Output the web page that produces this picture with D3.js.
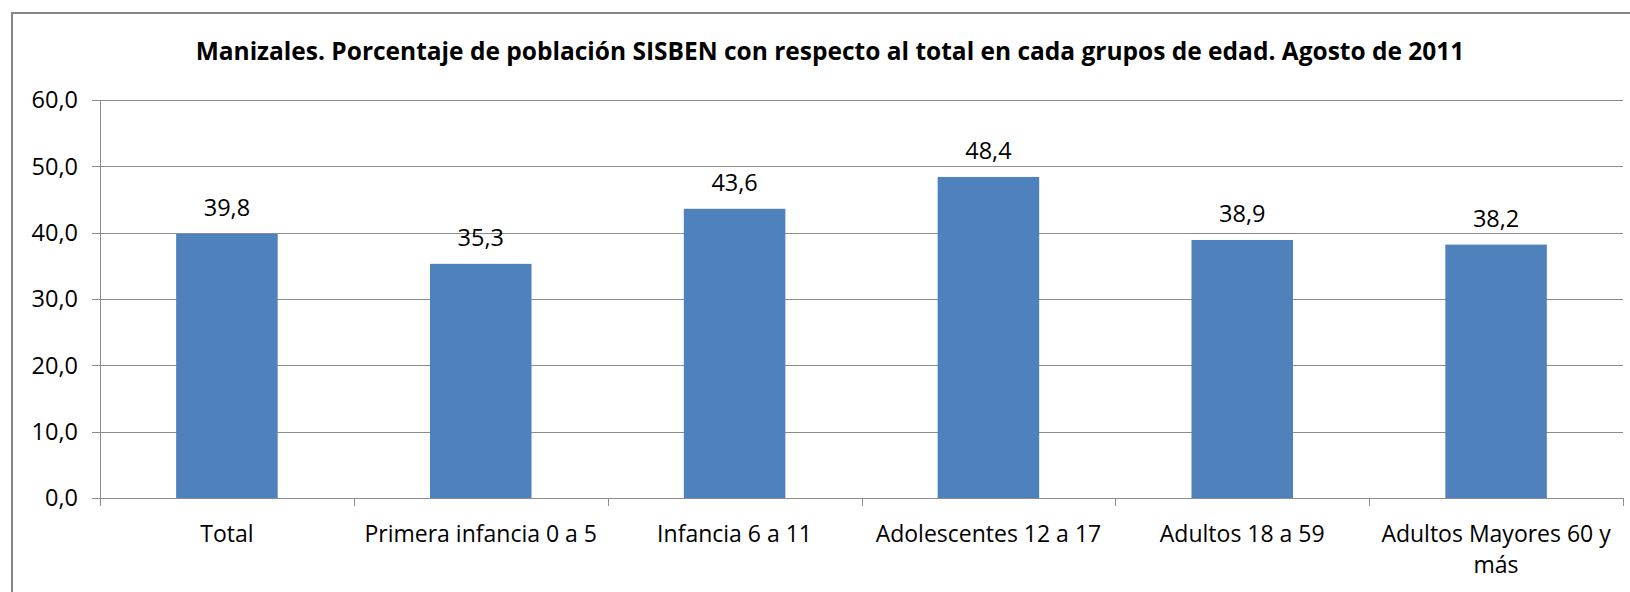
<!DOCTYPE html>
<html>
<head>
<meta charset="utf-8">
<script src="https://cdn.jsdelivr.net/npm/d3@7"></script>
<style>
  html, body { margin: 0; padding: 0; background: #fff; }
  svg text { font-family: "Open Sans", sans-serif; fill: #000; }
</style>
</head>
<body>
<div id="chart"></div>
<script>
const title = "Manizales. Porcentaje de población SISBEN con respecto al total en cada grupos de edad. Agosto de 2011";
const categories = ["Total", "Primera infancia 0 a 5", "Infancia 6 a 11", "Adolescentes 12 a 17", "Adultos 18 a 59", "Adultos Mayores 60 y más"];
const values = [39.8, 35.3, 43.6, 48.4, 38.9, 38.2];
const yTicks = [0, 10, 20, 30, 40, 50, 60];

const W = 1630, H = 592;
const margin = { top: 100, right: 7, bottom: 94, left: 100 };
const width  = W - margin.left - margin.right;
const height = H - margin.top - margin.bottom;

const fmt = v => d3.format(".1f")(v).replace(".", ",");

const root = d3.select("#chart")
  .append("svg")
    .attr("width", W)
    .attr("height", H);

// chart border
root.append("rect")
  .attr("x", 12).attr("y", 13)
  .attr("width", W + 20).attr("height", H + 20)
  .attr("fill", "none")
  .attr("stroke", "#868686")
  .attr("stroke-width", 2);

root.append("text")
  .attr("x", 830).attr("y", 60)
  .attr("text-anchor", "middle")
  .style("font-weight", "bold")
  .style("font-size", "24.5px")
  .text(title);

const svg = root.append("g")
  .attr("transform", `translate(${margin.left},${margin.top})`);

const x = d3.scaleBand()
  .domain(categories)
  .range([0, width])
  .paddingInner(0.6)
  .paddingOuter(0.3);

const xb = d3.scaleBand()
  .domain(categories)
  .range([0, width]);

const y = d3.scaleLinear()
  .domain([0, 60])
  .range([height, 0]);

// gridlines
svg.selectAll("line.grid")
  .data(yTicks)
  .join("line")
    .attr("class", "grid")
    .attr("x1", -8).attr("x2", width)
    .attr("y1", d => Math.round(y(d)) + 0.5)
    .attr("y2", d => Math.round(y(d)) + 0.5)
    .attr("stroke", "#8c8c8c")
    .attr("stroke-width", 1);

// y axis line
svg.append("line")
  .attr("x1", 0.5).attr("x2", 0.5)
  .attr("y1", 0).attr("y2", height)
  .attr("stroke", "#8c8c8c");

svg.selectAll("text.ytick")
  .data(yTicks)
  .join("text")
    .attr("class", "ytick")
    .attr("x", -22)
    .attr("y", d => y(d))
    .attr("dy", "0.35em")
    .attr("text-anchor", "end")
    .style("font-size", "23.5px")
    .text(fmt);

// category ticks
const bounds = categories.map(c => xb(c)).concat([width]);
svg.selectAll("line.xtick")
  .data(bounds)
  .join("line")
    .attr("class", "xtick")
    .attr("x1", d => Math.round(d) + 0.5).attr("x2", d => Math.round(d) + 0.5)
    .attr("y1", height).attr("y2", height + 8)
    .attr("stroke", "#8c8c8c");

// bars
svg.selectAll("rect.bar")
  .data(values)
  .join("rect")
    .attr("class", "bar")
    .attr("x", (d, i) => x(categories[i]))
    .attr("y", d => y(d))
    .attr("width", x.bandwidth())
    .attr("height", d => height - y(d))
    .attr("fill", "#4f81bd");

svg.selectAll("text.val")
  .data(values)
  .join("text")
    .attr("class", "val")
    .attr("x", (d, i) => x(categories[i]) + x.bandwidth() / 2)
    .attr("y", d => y(d) - 18)
    .attr("text-anchor", "middle")
    .style("font-size", "23.5px")
    .text(fmt);

// category labels, wrapped to band width
const lbl = svg.selectAll("text.cat")
  .data(categories)
  .join("text")
    .attr("class", "cat")
    .attr("x", d => xb(d) + xb.bandwidth() / 2)
    .attr("y", height + 44)
    .attr("text-anchor", "middle")
    .style("font-size", "23px");

lbl.each(function(d) {
  const t = d3.select(this);
  const cx = +t.attr("x");
  const words = d.split(" ");
  let line = [];
  let ts = t.append("tspan").attr("x", cx).attr("dy", 0);
  words.forEach(w => {
    line.push(w);
    ts.text(line.join(" "));
    if (ts.node().getComputedTextLength() > xb.bandwidth() + 4 && line.length > 1) {
      line.pop();
      ts.text(line.join(" "));
      line = [w];
      ts = t.append("tspan").attr("x", cx).attr("dy", "31").text(w);
    }
  });
});
</script>
</body>
</html>
